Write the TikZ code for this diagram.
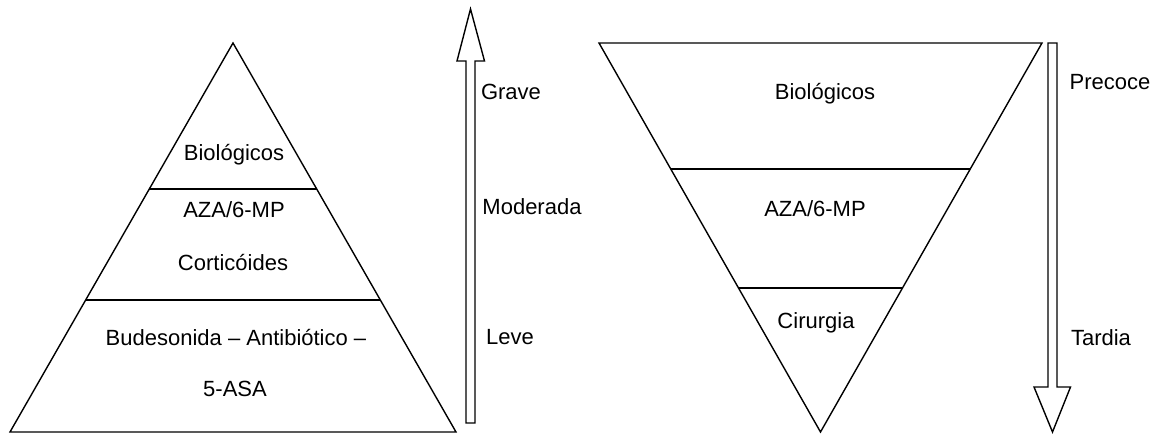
\documentclass[tikz,border=0pt]{standalone}
\usepackage{fontspec}
\setmainfont{Liberation Sans}
\usetikzlibrary{calc}

\begin{document}
\begin{tikzpicture}[
  x=1pt, y=-1pt,
  font=\fontsize{22}{26}\selectfont,
  tri/.style={draw, line width=1.4pt, line join=miter},
  tier/.style={draw, line width=1.8pt},
  lbl/.style={inner sep=0pt, text height=16pt, text depth=0pt, anchor=center},
  blockarrow/.style={draw, line width=1.4pt, line join=miter},
]
\useasboundingbox (0,0) rectangle (1162,435);
% left pyramid
\coordinate (pA) at (233,43);
\coordinate (pL) at (10,432);
\coordinate (pR) at (456,432);
\draw[tri] (pL) -- (pA) -- (pR) -- cycle;
\draw[tier] ($(pA)!0.375!(pL)$) -- ($(pA)!0.375!(pR)$);
\draw[tier] ($(pA)!0.661!(pL)$) -- ($(pA)!0.661!(pR)$);
\node[lbl] (bioL) at (234,153) {Biológicos};
\node[lbl] (azaL) at (234,210) {AZA/6-MP};
\node[lbl] (cort) at (233,263) {Corticóides};
\node[lbl] (bude) at (236,338) {Budesonida – Antibiótico –};
\node[lbl] (asa) at (235,388) {5-ASA};
% severity arrow
\coordinate (upT) at (470.5,9);
\coordinate (upB) at (470.5,423);
\draw[blockarrow] (upB) ++(-4.5,0) -- ++(0,-362) -- ++(-9,0) -- (upT)
  -- ++(14,52) -- ++(-9.5,0) -- ++(0,362) -- cycle;
\node[lbl] (grave) at (511,92) {Grave};
\node[lbl] (mod) at (532,207) {Moderada};
\node[lbl] (leve) at (510,337) {Leve};
% right inverted pyramid
\coordinate (qL) at (599,43);
\coordinate (qR) at (1042,43);
\coordinate (qA) at (820.5,432);
\draw[tri] (qL) -- (qR) -- (qA) -- cycle;
\draw[tier] ($(qA)!0.676!(qL)$) -- ($(qA)!0.676!(qR)$);
\draw[tier] ($(qA)!0.370!(qL)$) -- ($(qA)!0.370!(qR)$);
\node[lbl] (bioR) at (825,92) {Biológicos};
\node[lbl] (azaR) at (815,209) {AZA/6-MP};
\node[lbl] (cir) at (816,321) {Cirurgia};
% timing arrow
\coordinate (dnT) at (1052.5,43);
\coordinate (dnTip) at (1052.5,432);
\draw[blockarrow] (dnT) ++(-4.5,0) -- ++(0,344) -- ++(-14,0) -- (dnTip)
  -- ++(18,-45) -- ++(-13.5,0) -- ++(0,-344) -- cycle;
\node[lbl] (prec) at (1110,82) {Precoce};
\node[lbl] (tard) at (1101,338) {Tardia};
\end{tikzpicture}
\end{document}
